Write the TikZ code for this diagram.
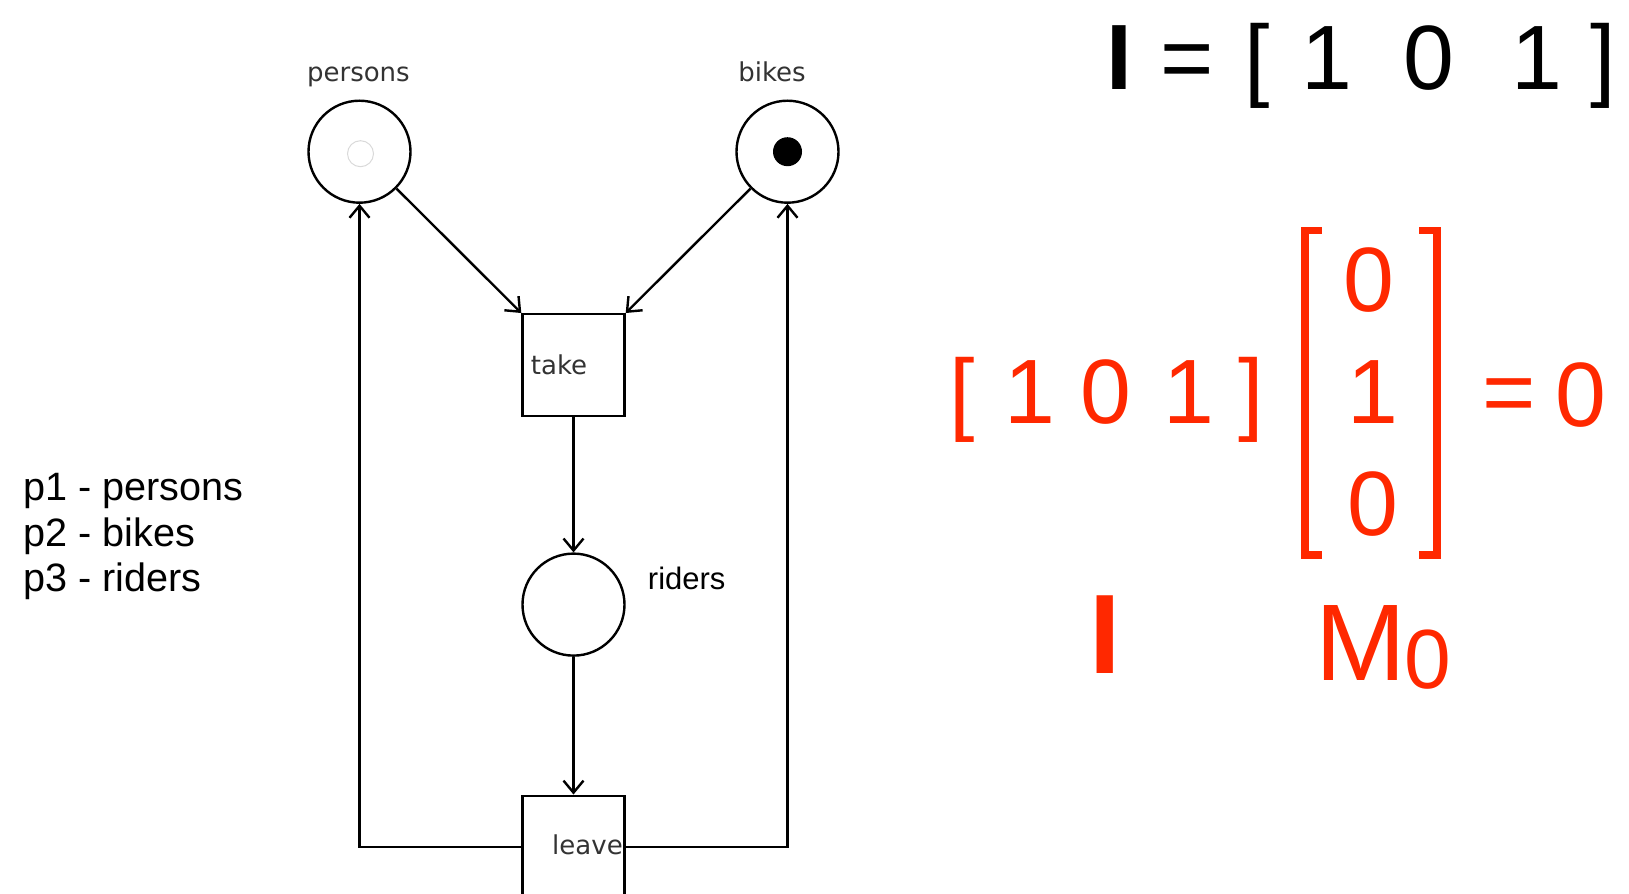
\documentclass[tikz,border=0pt]{standalone}
\usepackage{fontspec}
\setmainfont{Liberation Sans}
\newfontfamily\dejavu{DejaVu Sans}
\usetikzlibrary{arrows.meta}
\definecolor{eqred}{RGB}{255,40,0}
\definecolor{lbl}{RGB}{51,51,51}
\begin{document}
\begin{tikzpicture}[x=0.5pt,y=-0.5pt,
  place/.style={circle,draw,line width=1.2pt,minimum size=51pt,inner sep=0pt},
  trans/.style={rectangle,draw,line width=1.2pt,minimum width=51pt,minimum height=51pt,inner sep=0pt},
  arc/.style={line width=1.2pt,-{Straight Barb[length=6pt,width=10pt]}},
  netlbl/.style={font=\dejavu\fontsize{13}{15}\selectfont,text=lbl,inner sep=0pt},
  legend/.style={font=\fontsize{19.8}{23}\selectfont,anchor=base west,inner sep=0pt},
  bigtxt/.style={font=\fontsize{45.7}{50}\selectfont,anchor=base,inner sep=0pt},
  redtxt/.style={bigtxt,text=eqred},
  bracket/.style={draw=eqred,line width=3.9pt,line join=miter,line cap=butt}
]
\useasboundingbox (0,0) rectangle (1629,894);
% Petri net
\node[place] (persons) at (359.5,151.7) {};
\node[place] (bikes) at (787.5,151.7) {};
\node[trans] (take) at (573.5,365.2) {};
\node[place] (riders) at (573.5,604.6) {};
\node[trans] (leave) at (573.5,846.7) {};
\node[circle,fill=black,minimum size=14.5pt,inner sep=0pt] (btok) at (bikes) {};
\node[circle,draw=black!15,line width=0.5pt,minimum size=13pt,inner sep=0pt] (ptok) at ([xshift=0.5pt,yshift=-1pt]persons.center) {};
\node[netlbl,anchor=base] (lpersons) at (358.4,81) {persons};
\node[netlbl,anchor=base] (lbikes) at (772,81) {bikes};
\node[netlbl] (ltake) at (559,364.7) {take};
\node[netlbl] (lleave) at (587.5,844.6) {leave};
\node[inner sep=0pt,font=\fontsize{15.5}{18}\selectfont] (lriders) at (686.7,578.7) {riders};
\draw[arc] (persons) -- (take.north west);
\draw[arc] (bikes) -- (take.north east);
\draw[arc] (take) -- (riders);
\draw[arc] (riders) -- (leave);
\draw[arc] (leave.west) -| (persons.south);
\draw[arc] (leave.east) -| (bikes.south);
% legend
\node[legend] (p1) at (22.9,500.8) {p1 - persons};
\node[legend] (p2) at (22.9,546.5) {p2 - bikes};
\node[legend] (p3) at (22.9,591) {p3 - riders};
% top equation
\node[bigtxt,font=\fontsize{46.4}{50}\selectfont\bfseries] (tI) at (1119.4,89.3) {I};
\node[bigtxt] (teq) at (1187,89.3) {=};
\node[bigtxt] (tlb) at (1257.6,89.3) {[};
\node[bigtxt] (t1) at (1327,89.3) {1};
\node[bigtxt] (t0) at (1428.5,89.3) {0};
\node[bigtxt] (t3) at (1537,89.3) {1};
\node[bigtxt] (trb) at (1603.5,89.3) {]};
% red equation
\node[redtxt] (rlb) at (962,423.9) {[};
\node[redtxt] (r1) at (1030,423.9) {1};
\node[redtxt] (r0) at (1106.4,423.9) {0};
\node[redtxt] (r3) at (1189,423.9) {1};
\node[redtxt] (rrb) at (1251,423.9) {]};
\draw[bracket] (1321.5,230.4) -- (1304.6,230.4) -- (1304.6,555.1) -- (1321.5,555.1);
\draw[bracket] (1419,230.4) -- (1437.1,230.4) -- (1437.1,555.1) -- (1419,555.1);
\node[redtxt] (c1) at (1369,311.7) {0};
\node[redtxt] (c2) at (1373,423.9) {1};
\node[redtxt] (c3) at (1373.4,535) {0};
\node[redtxt] (req) at (1509,423.9) {=};
\node[redtxt] (rz) at (1581,426) {0};
\node[redtxt,font=\fontsize{56.5}{60}\selectfont\bfseries] (rI) at (1105.4,673) {I};
\node[redtxt,font=\fontsize{54.5}{60}\selectfont] (rM) at (1361,680.5) {M};
\node[redtxt,font=\fontsize{42}{45}\selectfont] (rMs) at (1428,688.5) {0};
\end{tikzpicture}
\end{document}
